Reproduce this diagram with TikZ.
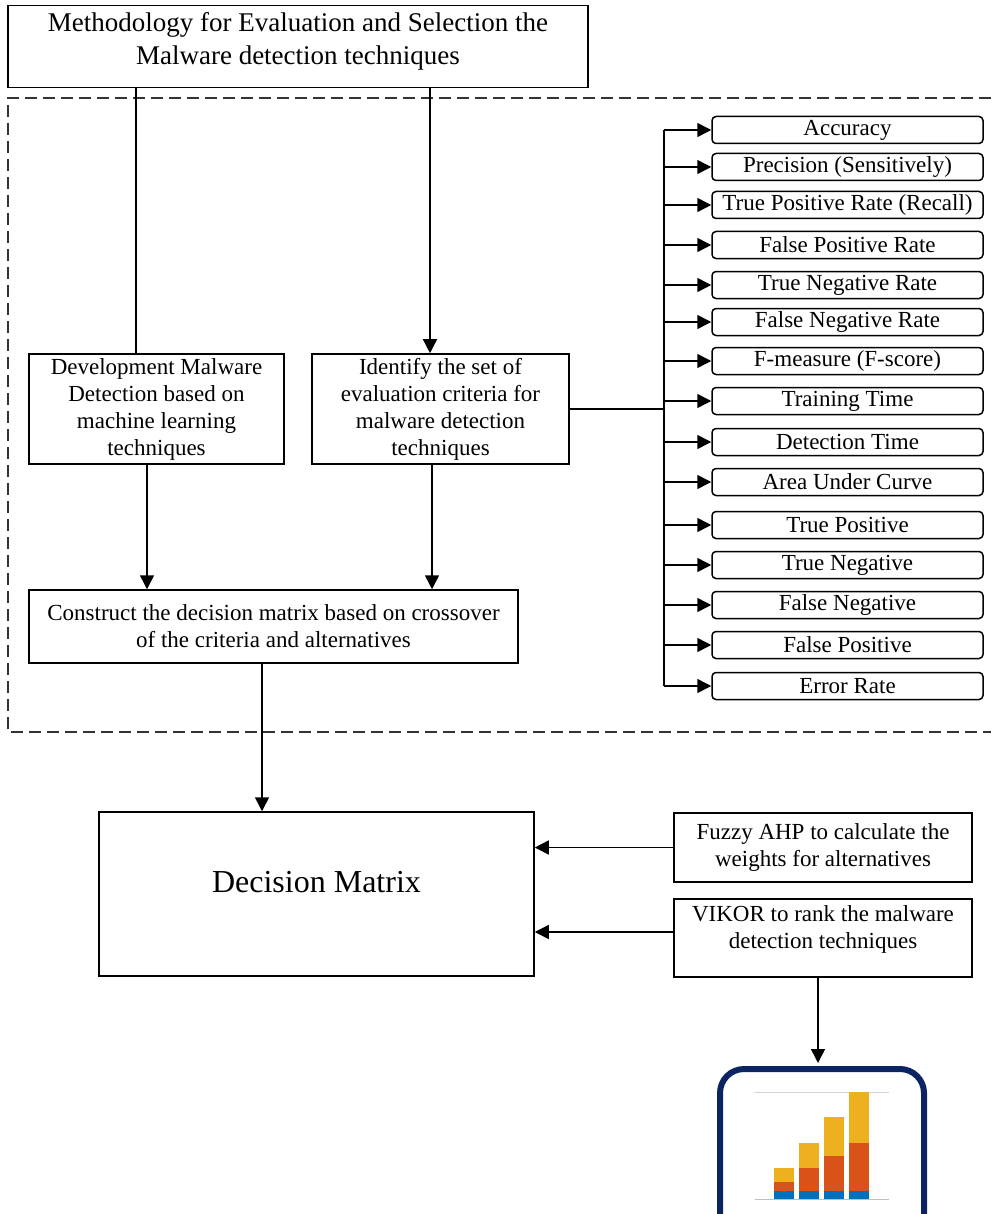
\documentclass[tikz,border=0pt]{standalone}
\usepackage{fontspec}
\setmainfont{Liberation Serif}
\usetikzlibrary{arrows.meta}

\definecolor{chartnavy}{RGB}{12,36,97}
\definecolor{barblue}{RGB}{0,114,189}
\definecolor{barorange}{RGB}{217,83,25}
\definecolor{baryellow}{RGB}{237,177,32}

\begin{document}
\begin{tikzpicture}[x=0.5pt,y=-0.5pt,
    font=\fontsize{11.5}{13.5}\selectfont,
    box/.style={draw,line width=0.75pt,align=center,inner sep=2pt},
    crit/.style={draw,line width=0.75pt,rounded corners=2pt,minimum width=135.5pt,minimum height=13.5pt,inner sep=0pt},
    arr/.style={line width=0.75pt,-{Triangle[length=7pt,width=7pt]}}]
    \useasboundingbox (0,0) rectangle (991,1214);
    \clip (0,0) rectangle (991,1214);

    \node[box,minimum width=290pt,minimum height=41pt,
        label={[font=\fontsize{13.5}{16.5}\selectfont,align=center,yshift=2.5pt]center:Methodology for Evaluation and Selection the\\Malware detection techniques}] (title) at (298,46.5) {};

    \draw[line width=1pt,black!80,dash pattern=on 6pt off 3pt] (991,98) -- (8,98) -- (8,732) -- (991,732);

    \node[box,minimum width=127.5pt,minimum height=51pt] (dev) at (156.5,409) {Development Malware\\Detection based on\\machine learning\\techniques};
    \node[box,minimum width=128.5pt,minimum height=51pt] (ident) at (440.5,409) {Identify the set of\\evaluation criteria for\\malware detection\\techniques};
    \node[box,minimum width=244.5pt,minimum height=36.5pt] (cons) at (273.5,626.5) {Construct the decision matrix based on crossover\\of the criteria and alternatives};

    \coordinate (d1) at (136,0);
    \coordinate (i1) at (430,0);
    \draw[line width=0.75pt] (d1 |- title.south) -- (d1 |- dev.north);
    \draw[arr] (i1 |- title.south) -- (i1 |- ident.north);

    \coordinate (c1) at (147,0);
    \coordinate (c2) at (432,0);
    \draw[arr] (c1 |- dev.south) -- (c1 |- cons.north);
    \draw[arr] (c2 |- ident.south) -- (c2 |- cons.north);

    % evaluation criteria
    \foreach \y/\t [count=\i] in {130/Accuracy, 167/Precision (Sensitively), 205/True Positive Rate (Recall),
        245/False Positive Rate, 285/True Negative Rate, 322/False Negative Rate, 361/F-measure (F-score),
        401/Training Time, 442/Detection Time, 482/Area Under Curve, 525/True Positive, 565/True Negative,
        605/False Negative, 645/False Positive, 686/Error Rate}
        \node[crit] (cr\i) at (847.5,\y) {\t};

    \coordinate (trunk) at (664,0);
    \draw[line width=0.75pt] (ident.east) -- (trunk |- ident.east);
    \draw[line width=0.75pt] (trunk |- cr1.west) -- (trunk |- cr15.west);
    \foreach \i in {1,...,15}
        \draw[arr] (trunk |- cr\i.west) -- (cr\i.west);

    \node[box,minimum width=217.5pt,minimum height=82pt,
        label={[font=\fontsize{16}{19}\selectfont,yshift=6pt]center:Decision Matrix}] (dm) at (316.5,894) {};
    \coordinate (c3) at (262,0);
    \draw[arr] (c3 |- cons.south) -- (c3 |- dm.north);

    \node[box,minimum width=149pt,minimum height=34.5pt] (fuzzy) at (823,847.5) {Fuzzy AHP to calculate the\\weights for alternatives};
    \node[box,minimum width=149pt,minimum height=39pt,
        label={[anchor=north,align=center]north:VIKOR to rank the malware\\detection techniques}] (vikor) at (823,938) {};
    \coordinate (vk) at (674,932);
    \draw[arr] (fuzzy.west) -- (dm.east |- fuzzy.west);
    \draw[arr] (vk) -- (dm.east |- vk);

    % result chart
    \node[draw=chartnavy,line width=3pt,rounded corners=12pt,minimum width=102pt,minimum height=90pt] (chart) at (822,1159) {};
    \coordinate (c4) at (818,0);
    \draw[arr,shorten >=1.5pt] (c4 |- vikor.south) -- (c4 |- chart.north);
    \draw[gray!35,line width=0.4pt] (755,1092) -- (889,1092);
    \draw[gray!50,line width=0.4pt] (755,1199) -- (889,1199);
    \foreach \x/\o/\yy in {774/1181.7/1168, 799/1168/1143, 824/1156/1117, 849/1143/1092} {
        \fill[barblue] (\x,1199) rectangle (\x+20,1190.7);
        \fill[barorange] (\x,1190.7) rectangle (\x+20,\o);
        \fill[baryellow] (\x,\o) rectangle (\x+20,\yy);
    }
\end{tikzpicture}
\end{document}
